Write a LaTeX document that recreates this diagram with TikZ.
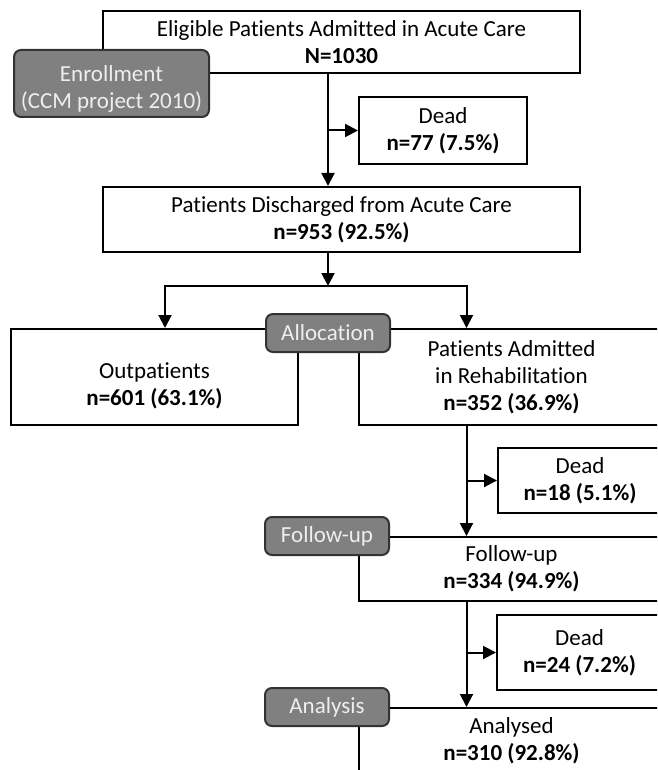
\documentclass[tikz,border=0pt]{standalone}
\usepackage{fontspec}
\setmainfont{Carlito}[Ligatures=NoCommon]
\usepackage{xcolor}
\usetikzlibrary{arrows.meta,positioning}
\tikzset{%
  arrow/.style={line width=2pt,-{Triangle[length=13pt,width=13pt]}},
  box/.style={draw,line width=2pt,fill=white,inner sep=0pt,align=center,font=\fontsize{23}{27}\selectfont},
  phase/.style={draw=phaseline,line width=2pt,fill=phasegray,rounded corners=7pt,inner sep=0pt,align=center,text=phasetext,font=\fontsize{23}{27}\selectfont},
  txt/.style={align=center,inner sep=0pt,font=\fontsize{23}{27}\selectfont},
}
\definecolor{phasegray}{HTML}{808080}
\definecolor{phaseline}{HTML}{333333}
\definecolor{phasetext}{HTML}{EEEEEE}

\begin{document}
\begin{tikzpicture}[x=1pt,y=-1pt]
      \useasboundingbox (0,0) rectangle (657,770);
      \clip (0,0) rectangle (657,770);

      \node[box,minimum width=477,minimum height=62] (eligible) at (341.5,42) {Eligible Patients Admitted in Acute Care\\\textbf{N=1030}};
      \node[box,minimum width=168,minimum height=67] (deadAcute) at (443,130.5) {Dead\\\textbf{n=77 (7.5\%)}};
      \node[box,minimum width=477,minimum height=65] (discharged) at (341.5,219.5) {Patients Discharged from Acute Care\\\textbf{n=953 (92.5\%)}};
      \node[box,minimum width=287,minimum height=96] (outpatients) at (154.5,377) {};
      \node[txt] (outpatientsText) at ([yshift=-9pt]outpatients.center) {Outpatients\\\textbf{n=601 (63.1\%)}};
      \node[box,minimum width=305,minimum height=96] (rehab) at (511.5,377) {Patients Admitted\\in Rehabilitation\\\textbf{n=352 (36.9\%)}};
      \node[box,minimum width=164,minimum height=65] (deadRehab) at (580,480.5) {Dead\\\textbf{n=18 (5.1\%)}};
      \node[box,minimum width=305,minimum height=64] (followUp) at (511.5,569) {Follow-up\\\textbf{n=334 (94.9\%)}};
      \node[box,minimum width=165,minimum height=75] (deadFollowUp) at (579.5,652.5) {Dead\\\textbf{n=24 (7.2\%)}};
      \node[box,minimum width=305,minimum height=66] (analysed) at (511.5,741) {Analysed\\\textbf{n=310 (92.8\%)}};

      \node[phase,minimum width=195,minimum height=67] (enrollment) at (111.5,83.5) {};
      \node[txt,text=phasetext] (enrollmentText) at ([yshift=-5pt]enrollment.center) {Enrollment\\(CCM project 2010)};
      \node[phase,minimum width=124,minimum height=38] (allocation) at (328,333) {Allocation};
      \node[phase,minimum width=124,minimum height=38] (followUpPhase) at (327,536) {Follow-up};
      \node[phase,minimum width=124,minimum height=38] (analysisPhase) at (327,707) {Analysis};

      \coordinate (acuteTrunk) at ([xshift=-13.5pt]eligible.south);
      \coordinate (split) at ([xshift=-13.5pt,yshift=-33pt]discharged.south);
      \coordinate (rehabTrunk) at ([xshift=-45pt]rehab.south);
      \coordinate (followTrunk) at ([xshift=-45pt]followUp.south);

      \draw[arrow] (acuteTrunk) -- (acuteTrunk |- discharged.north);
      \draw[arrow] (deadAcute.west -| acuteTrunk) -- (deadAcute.west);
      \draw[arrow] (split |- discharged.south) -- (split);
      \draw[arrow] (split) -| ([xshift=10.5pt]outpatients.north);
      \draw[arrow] (split) -| ([xshift=-45pt]rehab.north);
      \draw[arrow] (rehabTrunk) -- (rehabTrunk |- followUp.north);
      \draw[arrow] (deadRehab.west -| rehabTrunk) -- (deadRehab.west);
      \draw[arrow] (followTrunk) -- (followTrunk |- analysed.north);
      \draw[arrow] (deadFollowUp.west -| followTrunk) -- (deadFollowUp.west);
    \end{tikzpicture}
\end{document}
